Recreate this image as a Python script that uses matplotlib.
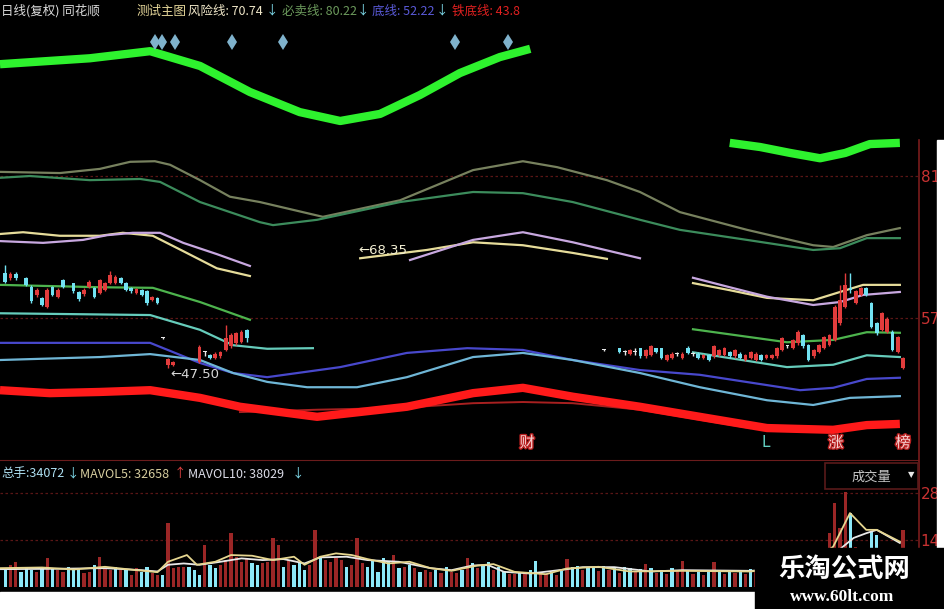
import numpy as np
import matplotlib.pyplot as plt
from matplotlib.patches import Rectangle
from matplotlib.lines import Line2D
import matplotlib.patheffects as pe

# ---- price panel lines (day index, price) ----
lime1_x = [0, 17.1, 28.6, 38.1, 47.6, 57.1, 64.8, 72.4, 80, 87.6, 95.2, 101]
lime1_y = [99.9, 100.9, 102.1, 99.6, 95.2, 91.8, 90.3, 91.5, 94.7, 98.4, 101.1, 102.5]
lime2_x = [139, 144.8, 150.5, 156.2, 161, 165.7, 171.4]
lime2_y = [86.6, 85.9, 84.9, 84.0, 84.9, 86.4, 86.6]

olive_x = [0, 11.4, 19, 24.8, 29.5, 32.4, 38.1, 43.8, 49.5, 61.5, 76.2, 90.1, 99.6, 106.1,
           115.6, 121.9, 129.5, 142.3, 154.9, 158.7, 165.1, 171.4]
olive_y = [81.7, 81.5, 82.2, 83.4, 83.5, 82.9, 80.3, 77.5, 76.6, 74.1, 76.9, 82.0, 83.5, 82.5,
           80.3, 78.3, 74.9, 71.9, 69.3, 69.0, 71.0, 72.2]
dkgreen_x = [0, 5.7, 17.1, 26.7, 30.5, 38.1, 43.8, 49.5, 52, 60.4, 76.2, 90.1, 99.6, 109.1,
             121.9, 129.5, 142.3, 154.9, 160, 165.1, 171.4]
dkgreen_y = [80.7, 81.0, 80.3, 80.5, 80.0, 76.6, 74.9, 73.2, 72.7, 73.6, 76.6, 78.3, 78.1, 76.6,
             73.6, 71.9, 70.2, 68.5, 68.8, 70.5, 70.5]

yellow_l_x = [0, 4.4, 11.4, 19, 23.4, 29.1, 34.9, 41.3, 47.6]
yellow_l_y = [71.2, 71.5, 70.9, 70.9, 71.4, 70.9, 68.3, 65.4, 64.1]
lav_l_x = [0, 8.2, 15.8, 20.4, 25.3, 30.5, 34.9, 41.3, 47.6]
lav_l_y = [70.0, 69.7, 70.2, 71.0, 71.4, 71.4, 69.7, 67.8, 65.8]
yellow_m_x = [68.6, 81.3, 90.1, 99.6, 109.1, 115.6]
yellow_m_y = [67.1, 68.5, 69.8, 69.3, 68.0, 67.0]
lav_m_x = [78.1, 90.1, 99.6, 109.1, 121.9]
lav_m_y = [66.8, 70.2, 71.5, 69.8, 67.1]
right_x = [132, 139, 146.1, 154.9, 160, 164.4, 171.4]
yellow_r_y = [62.9, 61.7, 60.4, 60.0, 61.4, 62.6, 62.6]
lav_r_y = [63.8, 62.2, 60.6, 59.2, 59.7, 60.9, 61.4]

green_l_x = [0, 9.5, 19, 29.1, 38.1, 47.6]
green_l_y = [62.6, 62.4, 62.2, 62.1, 59.7, 56.7]
green_r_x = [132, 149.9, 158.7, 165.1, 171.4]
green_r_y = [55.1, 52.9, 53.3, 54.6, 54.5]
teal_l_x = [0, 28.6, 38.1, 44.4, 50.9, 59.6]
teal_l_y = [57.8, 57.5, 55.0, 52.4, 51.8, 51.9]
teal_r_y = [51.2, 48.7, 49.1, 50.7, 50.4]

blue_x = [0, 28.6, 38.1, 44.4, 50.9, 64.8, 77.5, 89, 99.6, 109.1, 121.9, 133.3, 152.4, 158.7, 165.1, 171.4]
blue_y = [52.8, 52.8, 49.4, 47.7, 47.0, 48.7, 51.1, 51.9, 51.6, 49.9, 48.2, 47.4, 44.8, 45.2, 46.7, 46.9]
ltblue_x = [0, 19, 28.6, 38.1, 44.4, 50.9, 58.5, 68, 77.5, 90.1, 99.6, 109.1, 121.9, 133.3, 146.1,
            154.9, 161.9, 171.4]
ltblue_y = [49.9, 50.4, 50.9, 49.9, 47.7, 46.2, 45.3, 45.3, 47.0, 50.4, 51.1, 49.9, 47.7, 45.3, 43.1,
            42.3, 43.5, 43.8]
red_x = [0, 9.5, 19, 28.6, 38.1, 45.7, 60.4, 77.5, 90.1, 99.6, 109.1, 121.9, 133.3, 146.1, 158.7, 165.1, 171.4]
red_y = [44.8, 44.3, 44.5, 44.8, 43.5, 42.0, 40.3, 42.0, 44.3, 45.2, 43.7, 42.0, 40.3, 38.4, 38.1, 38.9, 39.1]
thinred_x = [45.7, 60.4, 76.2, 90.1, 99.6, 109.1, 121.9, 133.3, 142.9]
thinred_y = [41.1, 41.5, 41.8, 42.6, 42.8, 42.6, 41.5, 39.8, 38.4]

# ---- candles ----
left_days = [1, 2, 3, 5, 6, 7, 8, 9, 10, 11, 12, 14, 15, 16, 17, 18, 19, 20, 21, 22,
             23, 24, 25, 26, 27, 28, 29, 30, 31, 32, 33, 38, 39, 40, 41, 42, 43, 44, 45, 46, 47]
left_open = [64.6, 63.7, 64.5, 63.7, 62.3, 60.9, 60.3, 58.9, 62.2, 60.6,
             63.4, 62.9, 61.4, 61.0, 62.3, 62.0, 61.2, 61.7, 62.9, 62.9,
             63.7, 62.9, 62.0, 61.3, 61.7, 61.5, 60.1, 60.3, 53.6, 49.1,
             49.1, 49.6, 51.3, 50.7, 50.2, 50.5, 51.6, 52.2, 52.7, 53.0, 55.0]
left_close = [63.1, 64.5, 63.7, 62.6, 59.8, 61.7, 59.2, 61.7, 60.9, 61.7,
              62.3, 61.5, 60.2, 61.7, 63.1, 60.6, 63.4, 62.9, 64.3, 64.0,
              62.9, 61.7, 61.5, 61.9, 60.9, 59.5, 60.6, 59.5, 53.6, 50.0,
              49.6, 52.1, 51.3, 50.2, 51.0, 51.3, 53.6, 54.1, 54.4, 54.7, 53.6]
left_high = [66.0, 64.8, 64.8, 63.9, 62.5, 62.0, 60.5, 62.0, 62.4, 62.0,
             63.6, 63.0, 61.5, 62.0, 63.4, 62.2, 63.6, 63.1, 65.0, 64.3,
             64.0, 63.1, 62.2, 62.1, 61.9, 61.7, 60.8, 60.5, 53.8, 50.2,
             49.8, 52.4, 51.5, 50.9, 51.3, 51.5, 55.8, 54.4, 54.7, 55.0, 55.2]
left_low = [62.9, 63.5, 63.5, 62.4, 59.5, 60.6, 59.0, 58.7, 60.7, 60.4,
            62.1, 61.3, 59.8, 60.8, 62.1, 60.4, 61.0, 61.5, 62.7, 62.7,
            62.7, 61.5, 61.3, 61.1, 60.7, 59.2, 59.9, 59.3, 53.4, 48.6,
            48.9, 49.4, 50.6, 50.0, 50.0, 50.3, 51.4, 52.0, 52.5, 52.8, 53.0]

right_days = [115] + list(range(118, 173))
right_open = [51.6, 51.9, 51.2, 50.9, 51.3, 51.9, 50.5, 50.8, 51.9, 51.9,
              49.9, 50.2, 50.9, 50.2, 52.0, 50.9, 51.0, 50.2, 50.8, 50.5,
              50.8, 50.8, 51.3, 50.5, 51.0, 49.9, 50.2, 49.9, 50.8, 50.2,
              50.2, 50.5, 51.6, 52.2, 51.9, 52.7, 54.1, 52.4, 50.5, 51.3,
              51.9, 52.4, 53.3, 56.1, 58.9, 62.0, 59.5, 60.9, 62.0, 59.5,
              56.1, 55.0, 54.7, 54.7, 51.3, 48.5]
right_close = [51.6, 51.3, 51.2, 51.6, 51.3, 50.5, 51.6, 52.2, 51.3, 50.2,
               50.8, 51.0, 50.9, 51.0, 51.1, 50.9, 50.2, 50.8, 49.9, 52.2,
               51.6, 51.9, 50.5, 51.6, 50.2, 50.8, 51.3, 51.0, 49.9, 50.8,
               50.8, 51.9, 53.6, 52.2, 53.3, 54.7, 52.2, 49.9, 51.6, 52.4,
               53.8, 54.1, 58.9, 60.0, 62.5, 61.8, 61.5, 62.0, 60.9, 55.5,
               54.4, 57.8, 56.9, 51.6, 53.8, 50.2]
right_high = [51.7, 52.0, 51.6, 51.8, 51.9, 52.0, 51.8, 52.4, 52.0, 52.0,
              51.0, 51.2, 51.3, 51.2, 52.2, 51.3, 51.2, 51.0, 51.0, 52.4,
              51.8, 52.1, 51.5, 51.8, 51.2, 51.0, 51.5, 51.2, 51.0, 51.0,
              51.0, 52.1, 53.8, 52.5, 53.5, 54.9, 54.3, 52.6, 51.8, 52.6,
              54.0, 54.3, 59.2, 62.5, 64.6, 64.6, 61.7, 62.2, 62.2, 59.7,
              56.3, 58.0, 57.1, 55.0, 54.0, 50.4]
right_low = [51.4, 51.1, 50.7, 50.7, 50.8, 50.3, 50.3, 50.6, 51.1, 50.0,
             49.7, 50.0, 50.5, 50.0, 50.9, 50.5, 50.0, 50.0, 49.7, 50.3,
             50.6, 50.6, 50.3, 50.3, 50.0, 49.7, 50.0, 49.7, 49.7, 50.0,
             50.0, 50.3, 51.4, 51.9, 51.7, 52.5, 52.0, 49.7, 50.3, 51.1,
             51.7, 52.2, 53.1, 55.9, 58.7, 61.2, 59.3, 60.7, 60.7, 55.3,
             54.2, 54.8, 54.5, 51.4, 51.1, 48.3]

signal_days = [29.5, 30.9, 33.3, 44.2, 53.9, 86.7, 96.8]
signal_price = [103.6, 103.6, 103.6, 103.6, 103.6, 103.6, 103.6]

# ---- volume panel ----
volume = [5.6, 6.6, 7.5, 4.6, 5.6, 5.1, 4.6, 5.3, 8.5, 5.3,
          5.1, 4.6, 6.0, 5.1, 5.3, 4.3, 4.6, 6.6, 9.0, 5.6,
          5.1, 6.0, 5.1, 5.3, 3.6, 5.6, 4.6, 6.0, 4.1, 3.6,
          3.6, 19.0, 5.6, 6.0, 6.0, 6.0, 5.1, 3.6, 12.5, 6.6,
          5.6, 6.6, 8.0, 16.0, 9.0, 7.5, 8.5, 7.0, 6.6, 7.0,
          7.5, 14.5, 12.5, 6.0, 8.0, 6.6, 7.0, 5.1, 6.6, 16.9,
          9.0, 8.0, 7.5, 8.5, 8.0, 6.0, 6.6, 14.5, 7.0, 6.0,
          8.0, 4.6, 8.5, 7.5, 9.5, 5.6, 6.0, 6.6, 5.6, 4.6,
          5.1, 4.6, 5.1, 4.1, 6.0, 4.6, 4.1, 5.1, 8.5, 7.0,
          5.6,
          6.5, 7.4, 5.0, 5.8, 4.5, 3.8, 4.0, 4.2, 3.9, 5.0,
          7.6, 3.8, 4.0, 4.5, 3.6, 4.8, 8.3, 5.8, 6.2, 5.0,
          6.0, 5.5, 4.8, 6.2, 5.0, 5.8, 4.2, 6.0, 5.5, 4.5,
          5.2, 6.9, 5.5, 4.2, 5.0, 3.8, 5.5, 4.8, 7.8, 5.0,
          4.0, 4.6, 3.6, 4.5, 7.4, 4.4, 3.9, 5.0, 4.2, 4.8,
          4.0, 5.2,
          4.5, 5.0, 4.2, 5.5, 6.0, 4.8, 5.2, 6.5, 5.8, 7.0, 6.2, 6.8, 7.5,
          9.0, 16.1, 25.0, 17.6, 28.3, 22.0, 12.0, 10.0, 9.5, 16.4, 15.5, 10.5, 9.0, 8.0, 10.0, 17.0]
volume_dir = ("crrcccrcrc" "rrcccrrcrr" "rcrcrrccrr" "crrrrcccrc" "crrrrrrccr"
              "rrrcrcccrr" "crrrrcrrrc" "ccccrcrcrc" "rrcrcrrcrc" "r"
              "ccrccrrcrc" "crrcrcrccr" "ccrcrcrccr" "crcrcrcrrc" "rcrcrcrcrc" "rc"
              "rcrcrcrcrcrcr"
              "rrrrrcrcrccrcrrr")

mavol5_x = [0, 8, 14, 20, 26, 30, 32, 35.6, 37.5, 41, 44, 48, 52, 56, 58, 61, 64, 67, 70, 74,
            78, 82, 86, 91, 94, 98, 104, 108, 114, 120, 130, 143, 150, 156, 158.7, 161.9, 165, 167, 171.4]
mavol5_y = [5.6, 5.8, 5.2, 6.0, 5.0, 4.4, 7.5, 9.5, 6.6, 7.5, 9.5, 9.3, 8.0, 9.0, 6.6, 9.0, 10.0, 9.5, 8.3, 7.0,
            7.5, 5.6, 4.8, 6.4, 6.8, 4.5, 3.8, 5.5, 6.0, 4.6, 4.8, 4.6, 6.0, 9.0, 12.0, 22.0, 17.0, 17.0, 13.5]
mavol10_x = [0, 10, 20, 27, 30, 32, 35, 38, 42, 46, 50, 54, 58, 61, 66, 70, 76, 82, 86, 90,
             93, 96, 101, 107, 111, 117, 124, 130, 143, 150, 156, 159.4, 162.6, 165, 167, 171.4]
mavol10_y = [5.3, 5.4, 5.6, 5.0, 4.6, 6.6, 7.0, 6.6, 7.5, 8.5, 8.0, 8.3, 7.0, 8.8, 9.0, 8.0, 7.5, 5.6, 5.0, 6.4,
             6.5, 4.5, 4.0, 5.1, 5.9, 5.9, 4.6, 5.0, 4.8, 5.5, 8.0, 10.5, 14.6, 16.0, 17.0, 13.1]

W, H = 945, 609
UP, DOWN, FLAT = '#e23c3c', '#72e2f2', '#e8e8e8'
AXIS_RED = '#c83232'


def fx(x):
    return x / W


def fy(y):
    return 1 - y / H


def candles(ax, days, o, c, h, l):
    o, c, h, l = map(np.asarray, (o, c, h, l))
    cols = np.where(c > o, UP, np.where(c < o, DOWN, FLAT))
    ax.vlines(days, l, h, colors=cols, lw=1, zorder=6)
    ax.bar(days, np.maximum(np.abs(c - o), 0.18), bottom=np.minimum(o, c),
           width=0.72, color=cols, lw=0, zorder=7)


def style(ax, ylim, ticks):
    ax.set_facecolor('black')
    ax.set_xlim(0, 918 / 5.25)
    ax.set_ylim(*ylim)
    ax.set_xticks([])
    ax.yaxis.tick_right()
    ax.set_yticks(ticks)
    ax.set_yticklabels([str(t) for t in ticks])
    ax.tick_params(axis='y', length=0, pad=2, labelcolor=AXIS_RED, labelsize=11)
    for lab in ax.get_yticklabels():
        lab.set_family('DejaVu Sans')
    ax.yaxis.grid(True, color='#5a1616', linestyle=(0, (2, 2)), lw=0.9)
    for s in ax.spines.values():
        s.set_visible(False)


if __name__ == '__main__':
    plt.rcParams['font.family'] = ['Noto Sans CJK SC', 'DejaVu Sans']
    fig = plt.figure(figsize=(9.45, 6.09), dpi=100, facecolor='black')

    ax = fig.add_axes([0, fy(460), fx(918), 460 / H])
    style(ax, (33.0, 110.75), [57, 81])
    ax.spines['bottom'].set_visible(True)
    ax.spines['bottom'].set_color('#6b1c1c')

    ax.plot(lime1_x, lime1_y, color='#2ef22e', lw=6, solid_capstyle='butt', zorder=3)
    ax.plot(lime2_x, lime2_y, color='#2ef22e', lw=6, solid_capstyle='butt', zorder=3)
    ax.plot(olive_x, olive_y, color='#77815e', lw=1.6, zorder=3)
    ax.plot(dkgreen_x, dkgreen_y, color='#3c8c5c', lw=1.6, zorder=3)
    for xs, ys, col in [(yellow_l_x, yellow_l_y, '#e6dc9a'), (lav_l_x, lav_l_y, '#c8a8e0'),
                        (yellow_m_x, yellow_m_y, '#e6dc9a'), (lav_m_x, lav_m_y, '#c8a8e0'),
                        (right_x, yellow_r_y, '#e6dc9a'), (right_x, lav_r_y, '#c8a8e0')]:
        ax.plot(xs, ys, color=col, lw=1.6, zorder=3)
    ax.plot(green_l_x, green_l_y, color='#4db34d', lw=1.6, zorder=3)
    ax.plot(green_r_x, green_r_y, color='#4db34d', lw=1.6, zorder=3)
    ax.plot(teal_l_x, teal_l_y, color='#66ccbb', lw=1.6, zorder=3)
    ax.plot(green_r_x, teal_r_y, color='#66ccbb', lw=1.6, zorder=3)
    ax.plot(blue_x, blue_y, color='#4848cc', lw=1.6, zorder=3)
    ax.plot(ltblue_x, ltblue_y, color='#6fb6d6', lw=1.6, zorder=3)
    ax.plot(thinred_x, thinred_y, color='#a82020', lw=1.4, zorder=3)
    ax.plot(red_x, red_y, color='#ff1a1a', lw=6, solid_capstyle='butt', zorder=4)

    candles(ax, left_days, left_open, left_close, left_high, left_low)
    candles(ax, right_days, right_open, right_close, right_high, right_low)

    ax.plot(signal_days, signal_price, 'd', color='#7fb2cc', ms=8, mew=0, zorder=5)

    ax.text(68.2, 68.35, '←68.35', color='#f2eed2', fontsize=9.5, family='DejaVu Sans',
            va='center', ha='left', zorder=8)
    ax.text(32.4, 47.5, '←47.50', color='#d8d8d8', fontsize=9.5, family='DejaVu Sans',
            va='center', ha='left', zorder=8)
    glow = [pe.withStroke(linewidth=2, foreground='#b82020')]
    for d, s in [(100.4, '财'), (159.2, '涨'), (172, '榜')]:
        ax.text(d, 35.9, s, color='#f6d0d0', fontsize=11, ha='center', va='center',
                path_effects=glow, zorder=8)
    ax.text(145.9, 35.9, 'L', color='#62d0c2', fontsize=11, ha='center', va='center',
            family='DejaVu Sans', zorder=8)

    # volume panel
    vax = fig.add_axes([0, fy(592), fx(918), (592 - 462) / H])
    style(vax, (-1.5, 37.2), [14, 28])
    vdays = np.arange(1, len(volume) + 1)
    vcols = ['#9b2626' if ch == 'r' else '#8ce8f8' for ch in volume_dir]
    vax.bar(vdays, volume, width=0.62, color=vcols, lw=0, zorder=3)
    vax.plot(mavol10_x, mavol10_y, color='#e8e8e8', lw=1.3, zorder=4)
    vax.plot(mavol5_x, mavol5_y, color='#e6d690', lw=1.3, zorder=4)

    # right axis line and volume selector box
    fig.add_artist(Line2D([fx(919), fx(919)], [fy(140), fy(592)], color='#7a1c1c', lw=1.2))
    fig.add_artist(Rectangle((fx(825), fy(489)), fx(918) - fx(825), 26 / H, transform=fig.transFigure,
                             facecolor='black', edgecolor='#5a1a1a', lw=1.2, zorder=5))
    fig.text(fx(871), fy(477), '成交量', color='#c8c8c8', fontsize=9.5, ha='center', va='center', zorder=6)
    fig.text(fx(911), fy(475), '▼', color='#e8e8e8', fontsize=6, ha='center', va='center',
             family='DejaVu Sans', zorder=6)

    # headers
    y0 = fy(11)
    header = [(1, '日线(复权) 同花顺', '#dcdcdc'), (137, '测试主图', '#e6d79a'),
              (188, '风险线: 70.74', '#efe6c8'), (266, '↓', '#7fdcec'),
              (282, '必卖线: 80.22', '#6c9a5c'), (357, '↓', '#7fdcec'),
              (372, '底线: 52.22', '#5a5ad8'), (436, '↓', '#7fdcec'),
              (452, '铁底线: 43.8', '#e02020')]
    for x, s, col in header:
        fig.text(fx(x), y0, s, color=col, fontsize=9, ha='left', va='center')
    y1 = fy(474)
    vheader = [(1, '总手:34072', '#aee0f2'), (67, '↓', '#7fdcec'),
               (80, 'MAVOL5: 32658', '#d8cfa0'), (174, '↑', '#e04040'),
               (188, 'MAVOL10: 38029', '#dcdce8'), (292, '↓', '#7fdcec')]
    for x, s, col in vheader:
        fig.text(fx(x), y1, s, color=col, fontsize=9, ha='left', va='center')

    # screenshot margins and watermark
    fig.add_artist(Rectangle((0, 0), fx(755), 17 / H, transform=fig.transFigure,
                             color='white', zorder=10))
    fig.add_artist(Rectangle((fx(937), fy(548)), fx(8), (548 - 140) / H, transform=fig.transFigure,
                             color='white', zorder=10))
    fig.add_artist(Rectangle((fx(755), 0), fx(190), 61 / H, transform=fig.transFigure,
                             color='black', zorder=10))
    fig.text(fx(844), fy(569), '乐淘公式网', color='white', fontsize=19, weight='bold',
             ha='center', va='center', zorder=12)
    fig.text(fx(842), fy(597), 'www.60lt.com', color='white', fontsize=12.5, weight='bold',
             family='Liberation Serif', ha='center', va='center', zorder=12)

    fig.savefig('out.png', dpi=100, facecolor='black')
